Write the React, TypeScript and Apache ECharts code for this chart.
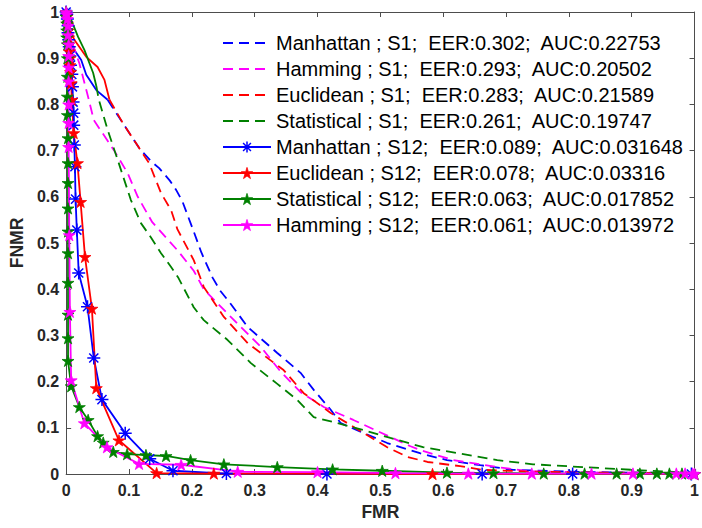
import React, { useEffect, useRef } from 'react';
import * as echarts from 'echarts';

// ---------- data (x = FMR, y = FNMR) ----------
const manhattanS1Head = [[0, 1], [0.003, 0.97], [0.007, 0.94], [0.013, 0.918], [0.024, 0.896], [0.032, 0.864], [0.048, 0.831], [0.066, 0.81]];
const manhattanS1 = [[0.066, 0.81], [0.09, 0.76], [0.116, 0.706], [0.135, 0.677], [0.148, 0.662], [0.165, 0.635], [0.175, 0.615], [0.185, 0.59], [0.203, 0.525], [0.215, 0.48], [0.233, 0.425], [0.245, 0.397], [0.262, 0.368], [0.289, 0.318], [0.336, 0.262], [0.373, 0.219], [0.394, 0.182], [0.421, 0.139], [0.437, 0.11], [0.473, 0.089], [0.511, 0.067], [0.563, 0.045], [0.606, 0.03], [0.659, 0.019], [0.711, 0.009], [0.8, 0.005], [0.9, 0.003], [1, 0.002]];
const hammingS1 = [[0, 1], [0.008, 0.94], [0.021, 0.889], [0.035, 0.816], [0.044, 0.766], [0.076, 0.701], [0.098, 0.651], [0.114, 0.6], [0.137, 0.545], [0.178, 0.483], [0.203, 0.44], [0.219, 0.4], [0.262, 0.34], [0.31, 0.275], [0.341, 0.222], [0.373, 0.177], [0.41, 0.145], [0.457, 0.117], [0.516, 0.08], [0.548, 0.06], [0.563, 0.052], [0.616, 0.03], [0.686, 0.015], [0.738, 0.006], [0.85, 0.003], [1, 0.002]];
const euclideanS1Head = [[0, 1], [0.004, 0.97], [0.013, 0.94], [0.032, 0.903], [0.05, 0.881], [0.061, 0.853], [0.069, 0.81]];
const euclideanS1 = [[0.069, 0.81], [0.09, 0.76], [0.116, 0.706], [0.132, 0.673], [0.151, 0.608], [0.167, 0.571], [0.177, 0.53], [0.203, 0.463], [0.219, 0.405], [0.251, 0.34], [0.289, 0.283], [0.346, 0.225], [0.378, 0.175], [0.421, 0.132], [0.473, 0.089], [0.511, 0.058], [0.543, 0.037], [0.575, 0.026], [0.627, 0.017], [0.663, 0.009], [0.743, 0.005], [0.85, 0.003], [1, 0.002]];
const statisticalS1Head = [[0, 1], [0.008, 0.983], [0.019, 0.946], [0.029, 0.918], [0.043, 0.868], [0.048, 0.84]];
const statisticalS1 = [[0.048, 0.84], [0.052, 0.81], [0.066, 0.745], [0.082, 0.68], [0.103, 0.593], [0.119, 0.543], [0.135, 0.512], [0.151, 0.478], [0.167, 0.448], [0.178, 0.426], [0.203, 0.361], [0.219, 0.333], [0.257, 0.29], [0.294, 0.24], [0.336, 0.195], [0.368, 0.16], [0.394, 0.123], [0.432, 0.11], [0.473, 0.095], [0.516, 0.078], [0.568, 0.058], [0.632, 0.043], [0.686, 0.03], [0.743, 0.021], [0.822, 0.015], [0.902, 0.009], [1, 0.002]];

const manhattanS12 = [[0, 1], [0.001, 0.995], [0.002, 0.985], [0.003, 0.97], [0.003, 0.955], [0.004, 0.94], [0.005, 0.925], [0.006, 0.905], [0.007, 0.885], [0.009, 0.865], [0.01, 0.838], [0.011, 0.805], [0.012, 0.781], [0.012, 0.755], [0.013, 0.712], [0.014, 0.665], [0.015, 0.595], [0.017, 0.528], [0.02, 0.435], [0.034, 0.362], [0.044, 0.251], [0.057, 0.161], [0.094, 0.088], [0.133, 0.033], [0.17, 0.007], [0.255, 0.001], [0.415, 0], [0.662, 0], [0.806, 0], [0.995, 0]];
const euclideanS12 = [[0, 1], [0.001, 0.99], [0.002, 0.975], [0.003, 0.96], [0.004, 0.945], [0.004, 0.93], [0.005, 0.915], [0.006, 0.9], [0.006, 0.885], [0.007, 0.87], [0.008, 0.846], [0.009, 0.81], [0.012, 0.738], [0.018, 0.673], [0.023, 0.589], [0.03, 0.47], [0.041, 0.358], [0.048, 0.186], [0.084, 0.073], [0.144, 0.002], [0.235, 0.001], [0.583, 0], [1, 0]];
const statisticalS12 = [[0, 1], [0, 0.99], [0.001, 0.975], [0.001, 0.96], [0.001, 0.945], [0.002, 0.93], [0.002, 0.9], [0.002, 0.86], [0.002, 0.817], [0.002, 0.777], [0.003, 0.727], [0.003, 0.673], [0.003, 0.63], [0.003, 0.575], [0.003, 0.525], [0.003, 0.478], [0.003, 0.414], [0.003, 0.345], [0.003, 0.294], [0.003, 0.245], [0.008, 0.19], [0.021, 0.145], [0.035, 0.117], [0.05, 0.082], [0.059, 0.068], [0.075, 0.048], [0.097, 0.043], [0.127, 0.041], [0.159, 0.039], [0.198, 0.03], [0.251, 0.021], [0.336, 0.015], [0.424, 0.01], [0.503, 0.007], [0.606, 0.003], [0.68, 0.002], [0.76, 0.001], [0.825, 0.001], [0.876, 0.001], [0.913, 0.001], [0.94, 0.001], [0.96, 0.001], [0.98, 0.001], [1, 0]];
const hammingS12 = [[0, 1], [0.001, 0.995], [0.002, 0.985], [0.003, 0.97], [0.003, 0.95], [0.004, 0.93], [0.004, 0.905], [0.004, 0.88], [0.004, 0.85], [0.004, 0.8], [0.004, 0.76], [0.004, 0.708], [0.005, 0.517], [0.006, 0.351], [0.008, 0.203], [0.029, 0.11], [0.065, 0.058], [0.116, 0.022], [0.183, 0.02], [0.273, 0.005], [0.4, 0.004], [0.524, 0.002], [0.64, 0.001], [0.741, 0.001], [0.836, 0.001], [0.902, 0.001], [0.971, 0.001], [0.985, 0.001], [0.997, 0.001], [1, 0]];

const names = [
  'Manhattan ; S1;  EER:0.302;  AUC:0.22753',
  'Hamming ; S1;  EER:0.293;  AUC:0.20502',
  'Euclidean ; S1;  EER:0.283;  AUC:0.21589',
  'Statistical ; S1;  EER:0.261;  AUC:0.19747',
  'Manhattan ; S12;  EER:0.089;  AUC:0.031648',
  'Euclidean ; S12;  EER:0.078;  AUC:0.03316',
  'Statistical ; S12;  EER:0.063;  AUC:0.017852',
  'Hamming ; S12;  EER:0.061;  AUC:0.013972',
];
const xTicks = [0, 0.1, 0.2, 0.3, 0.4, 0.5, 0.6, 0.7, 0.8, 0.9, 1];

// ---------- styles ----------
const BLUE = '#0000ff';
const MAGENTA = '#ff00ff';
const RED = '#ff0000';
const GREEN = '#008000';
const FONT = '"Liberation Sans", Arial, Helvetica, sans-serif';
const ASTERISK = 'path://M10,0L10,20M0,10L20,10M3,3L17,17M3,17L17,3';
const STAR = 'path://M10,0L12.25,6.91L19.51,6.91L13.63,11.18L15.88,18.09L10,13.82L4.12,18.09L6.37,11.18L0.49,6.91L7.75,6.91Z';
const DASH = [10, 6];
const LW = 1.8;

function dashedSeries(name: string, color: string, data: number[][]) {
  return {
    name, type: 'line', data, symbol: 'circle', showSymbol: false, symbolSize: 0,
    itemStyle: { color, opacity: 0 },
    lineStyle: { color, width: LW, type: DASH },
    emphasis: { disabled: true },
  };
}
function headSeries(color: string, data: number[][]) {
  return {
    type: 'line', data, symbol: 'none', showSymbol: false,
    lineStyle: { color, width: LW, type: 'solid' },
    emphasis: { disabled: true },
  };
}
function markerSeries(name: string, color: string, data: number[][], asterisk: boolean) {
  return {
    name, type: 'line', data,
    symbol: asterisk ? ASTERISK : STAR,
    symbolSize: asterisk ? 13 : 12,
    symbolKeepAspect: true,
    showSymbol: true, showAllSymbol: true,
    itemStyle: asterisk
      ? { color: 'none', borderColor: color, borderWidth: 1.5 }
      : { color, borderColor: color, borderWidth: 0.8 },
    lineStyle: { color, width: LW, type: 'solid' },
    emphasis: { disabled: true },
  };
}

export default function App() {
  const ref = useRef<HTMLDivElement>(null);
  useEffect(() => {
    if (!ref.current) return;
    const chart = echarts.init(ref.current, undefined, { renderer: 'svg' });
    const axisLineStyle = { color: '#4d4d4d', width: 1 };
    const baseAxis = {
      type: 'value', min: 0, max: 1, interval: 0.1,
      axisLine: { show: true, onZero: false, lineStyle: axisLineStyle },
      axisTick: { show: true, inside: true, length: 5, lineStyle: axisLineStyle },
      splitLine: { show: false },
    };
    const labelStyle = { fontSize: 16, fontWeight: 'bold', color: '#262626', fontFamily: FONT };
    const nameStyle = { fontSize: 17.5, fontWeight: 'bold', color: '#262626', fontFamily: FONT };
    const fmt = (v: number) => {
      const t = xTicks.find((k) => Math.abs(k - v) < 1e-6);
      return t === undefined ? '' : String(t);
    };
    chart.setOption({
      animation: false,
      backgroundColor: '#ffffff',
      grid: { left: 65, right: 7, top: 12, bottom: 54, containLabel: false },
      xAxis: [
        {
          ...baseAxis, position: 'bottom',
          axisLabel: { ...labelStyle, margin: 8, formatter: fmt },
          name: 'FMR', nameLocation: 'middle', nameGap: 27,
          nameTextStyle: nameStyle,
        },
        { ...baseAxis, position: 'top', axisLabel: { show: false } },
      ],
      yAxis: [
        {
          ...baseAxis, position: 'left',
          axisLabel: { ...labelStyle, margin: 7, formatter: fmt },
          name: 'FNMR', nameLocation: 'middle', nameGap: 38,
          nameTextStyle: nameStyle,
        },
        { ...baseAxis, position: 'right', axisLabel: { show: false } },
      ],
      legend: {
        orient: 'vertical', left: 222, top: 33, padding: 0,
        itemWidth: 48, itemHeight: 14, itemGap: 6,
        textStyle: { fontSize: 20, fontFamily: FONT, color: '#000', lineHeight: 20 },
        selectedMode: false,
        data: [
          { name: names[0], itemStyle: { opacity: 0 } },
          { name: names[1], itemStyle: { opacity: 0 } },
          { name: names[2], itemStyle: { opacity: 0 } },
          { name: names[3], itemStyle: { opacity: 0 } },
          { name: names[4], itemStyle: { color: 'none', borderColor: BLUE, borderWidth: 1.5 } },
          { name: names[5], itemStyle: { color: RED, borderColor: RED, borderWidth: 0.8 } },
          { name: names[6], itemStyle: { color: GREEN, borderColor: GREEN, borderWidth: 0.8 } },
          { name: names[7], itemStyle: { color: MAGENTA, borderColor: MAGENTA, borderWidth: 0.8 } },
        ],
      },
      series: [
        headSeries(BLUE, manhattanS1Head),
        dashedSeries(names[0], BLUE, manhattanS1),
        dashedSeries(names[1], MAGENTA, hammingS1),
        headSeries(RED, euclideanS1Head),
        dashedSeries(names[2], RED, euclideanS1),
        headSeries(GREEN, statisticalS1Head),
        dashedSeries(names[3], GREEN, statisticalS1),
        markerSeries(names[4], BLUE, manhattanS12, true),
        markerSeries(names[5], RED, euclideanS12, false),
        markerSeries(names[6], GREEN, statisticalS12, false),
        markerSeries(names[7], MAGENTA, hammingS12, false),
      ],
    });
    return () => chart.dispose();
  }, []);
  return <div ref={ref} style={{ position: 'absolute', left: 0, top: 0, width: 702, height: 528 }} />;
}
